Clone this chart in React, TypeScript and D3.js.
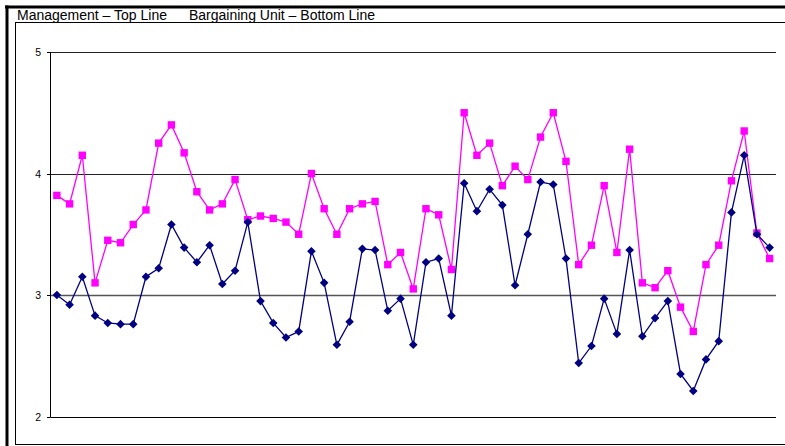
import React from "react";
import * as d3 from "d3";

const categories: number[] = Array.from({ length: 57 }, (_, i) => i + 1);

const management: number[] = [
  3.82, 3.75, 4.15, 3.1, 3.45, 3.43, 3.58, 3.7, 4.25, 4.4, 4.17, 3.85, 3.7, 3.75, 3.95,
  3.62, 3.65, 3.63, 3.6, 3.5, 4.0, 3.71, 3.5, 3.71, 3.75, 3.77, 3.25, 3.35, 3.05, 3.71,
  3.66, 3.21, 4.5, 4.15, 4.25, 3.9, 4.06, 3.95, 4.3, 4.5, 4.1, 3.25, 3.41, 3.9, 3.35,
  4.2, 3.1, 3.06, 3.2, 2.9, 2.7, 3.25, 3.41, 3.94, 4.35, 3.51, 3.3,
];

const bargaining: number[] = [
  3.0, 2.92, 3.15, 2.83, 2.77, 2.76, 2.76, 3.15, 3.22, 3.58, 3.39, 3.27, 3.41, 3.09, 3.2,
  3.6, 2.95, 2.77, 2.65, 2.7, 3.36, 3.1, 2.59, 2.78, 3.38, 3.37, 2.87, 2.97, 2.59, 3.27,
  3.3, 2.83, 3.92, 3.69, 3.87, 3.74, 3.08, 3.5, 3.93, 3.91, 3.3, 2.44, 2.58, 2.97, 2.68,
  3.37, 2.66, 2.81, 2.95, 2.35, 2.21, 2.47, 2.62, 3.68, 4.15, 3.5, 3.39,
];

const yTicks: number[] = [2, 3, 4, 5];
const titleLeft = "Management – Top Line";
const titleRight = "Bargaining Unit – Bottom Line";

export default function App() {
  const W = 785;
  const H = 446;
  const left = 50.5;
  const right = 776;
  const top = 52;
  const bottom = 416.5;

  const x = d3
    .scaleBand<number>()
    .domain(categories)
    .range([left, right]);
  const y = d3.scaleLinear().domain([2, 5]).range([bottom, top]);
  const cx = (i: number) => (x(categories[i]) as number) + x.bandwidth() / 2;

  const line = d3
    .line<number>()
    .x((_, i) => cx(i))
    .y((d) => y(d));

  const diamond = (px: number, py: number, r: number) =>
    `M${px},${py - r}L${px + r},${py}L${px},${py + r}L${px - r},${py}Z`;

  return (
    <svg
      width={W}
      height={H}
      style={{ position: "absolute", left: 0, top: 0, display: "block" }}
      fontFamily="'Liberation Sans', Arial, sans-serif"
    >
      <rect x={0} y={0} width={W} height={H} fill="#fff" />
      {/* outer frame */}
      <line x1={5} x2={W} y1={7} y2={7} stroke="#000" strokeWidth={3} />
      <line x1={7} x2={7} y1={5.5} y2={H} stroke="#000" strokeWidth={3} />
      <line x1={15} x2={W} y1={22.5} y2={22.5} stroke="#000" strokeWidth={1} />
      <line x1={15.5} x2={15.5} y1={22.5} y2={444.5} stroke="#000" strokeWidth={1} />
      <line x1={15} x2={W} y1={444.5} y2={444.5} stroke="#000" strokeWidth={1} />
      <text x={17} y={20} fontSize={14} fill="#000">
        {titleLeft}
      </text>
      <text x={189} y={20} fontSize={14} fill="#000">
        {titleRight}
      </text>

      {/* gridlines & ticks */}
      {yTicks.map((t) => (
        <g key={t}>
          <line
            x1={left}
            x2={right}
            y1={Math.round(y(t)) + 0.5}
            y2={Math.round(y(t)) + 0.5}
            stroke={t === 2 ? "#000" : t === 3 ? "#555" : "#222"}
            strokeWidth={t === 3 ? 1.6 : 1.2}
          />
          <line
            x1={47}
            x2={left}
            y1={Math.round(y(t)) + 0.5}
            y2={Math.round(y(t)) + 0.5}
            stroke="#000"
          />
          <text
            x={41}
            y={y(t) + 4}
            fontSize={10.5}
            textAnchor="end"
            fill="#000"
          >
            {t}
          </text>
        </g>
      ))}
      <line x1={left} x2={left} y1={top} y2={bottom + 0.5} stroke="#000" strokeWidth={1} />

      {/* management */}
      <path d={line(management) || ""} fill="none" stroke="#FF00FF" strokeWidth={1.3} />
      {management.map((v, i) => (
        <rect
          key={"m" + i}
          x={cx(i) - 3.7}
          y={y(v) - 3.7}
          width={7.4}
          height={7.4}
          fill="#FF00FF"
        />
      ))}

      {/* bargaining */}
      <path d={line(bargaining) || ""} fill="none" stroke="#000080" strokeWidth={1.3} />
      {bargaining.map((v, i) => (
        <path key={"b" + i} d={diamond(cx(i), y(v), 4.3)} fill="#000080" />
      ))}
    </svg>
  );
}
